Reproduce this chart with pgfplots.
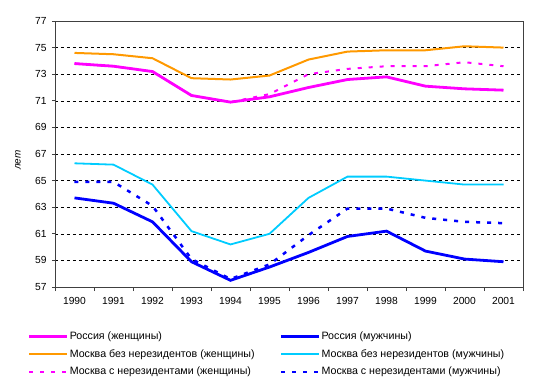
\documentclass[border=0pt]{standalone}
\usepackage{fontspec}
\setmainfont{Liberation Sans}
\usepackage{pgfplots}
\pgfplotsset{compat=1.18}
\definecolor{cmag}{RGB}{255,0,255}
\definecolor{cblue}{RGB}{0,0,255}
\definecolor{corange}{RGB}{255,153,0}
\definecolor{ccyan}{RGB}{0,204,255}
\definecolor{axgray}{RGB}{64,64,64}
\begin{document}
\begin{tikzpicture}
\begin{axis}[
 scale only axis, width=468bp, height=266bp,
 xmin=-0.5, xmax=11.5, ymin=57, ymax=77,
 ytick={57,59,...,77},
 xtick={0,...,11},
 xticklabels={1990,1991,1992,1993,1994,1995,1996,1997,1998,1999,2000,2001},
 minor xtick={-0.5,0.5,...,11.5},
 major x tick style={draw=none},
 xtick pos=bottom, ytick pos=left, tick align=outside,
 major tick length=3bp, minor tick length=4bp,
 ymajorgrids, major grid style={black, dash pattern=on 3bp off 3bp, line width=0.6bp},
 axis line style={axgray, line width=0.8bp},
 every tick/.style={axgray, line width=0.8bp},
 tick label style={font=\fontsize{10.3}{12}\selectfont},
 xticklabel style={yshift=-4bp},
 yticklabel style={xshift=-2bp},
 /pgf/number format/assume math mode=true,
 ylabel={\itshape лет},
 ylabel style={at={(axis description cs:-0.079,0.477)}, anchor=center, font=\fontsize{10}{12}\selectfont},
 legend image code/.code={\draw[#1] (0bp,0bp) -- (38bp,0bp);},
 legend columns=2,
 legend style={draw=none, fill=none, inner sep=0pt, outer sep=0pt,
   at={(axis description cs:-0.0577,-0.164)}, anchor=north west,
   font=\fontsize{10.7}{12}\selectfont,
   nodes={inner sep=1bp, text height=8bp, text depth=2.5bp},
   column sep=0pt, row sep=5bp},
 legend cell align=left,
]
\addplot[cmag, line width=2.8bp] coordinates {(0,73.8)(1,73.6)(2,73.2)(3,71.4)(4,70.9)(5,71.3)(6,72.0)(7,72.6)(8,72.8)(9,72.1)(10,71.9)(11,71.8)};
\addlegendentry{\makebox[209bp][l]{Россия (женщины)}}
\addplot[cblue, line width=2.8bp] coordinates {(0,63.7)(1,63.3)(2,61.9)(3,58.9)(4,57.5)(5,58.5)(6,59.6)(7,60.8)(8,61.2)(9,59.7)(10,59.1)(11,58.9)};
\addlegendentry{Россия (мужчины)}
\addplot[corange, line width=2bp] coordinates {(0,74.6)(1,74.5)(2,74.2)(3,72.7)(4,72.6)(5,72.9)(6,74.1)(7,74.7)(8,74.8)(9,74.8)(10,75.1)(11,75.0)};
\addlegendentry{\makebox[209bp][l]{Москва без нерезидентов (женщины)}}
\addplot[ccyan, line width=1.8bp] coordinates {(0,66.3)(1,66.2)(2,64.7)(3,61.2)(4,60.2)(5,61.0)(6,63.7)(7,65.3)(8,65.3)(9,65.0)(10,64.7)(11,64.7)};
\addlegendentry{Москва без нерезидентов (мужчины)}
\addplot[cmag, line width=2bp, dash pattern=on 4bp off 7bp] coordinates {(0,73.8)(1,73.6)(2,73.2)(3,71.4)(4,70.9)(5,71.5)(6,73.0)(7,73.4)(8,73.6)(9,73.6)(10,73.9)(11,73.6)};
\addlegendentry{\makebox[209bp][l]{Москва с нерезидентами (женщины)}}
\addplot[cblue, line width=2.5bp, dash pattern=on 4bp off 7bp] coordinates {(0,64.9)(1,64.9)(2,63.1)(3,59.1)(4,57.6)(5,58.7)(6,60.9)(7,62.9)(8,62.9)(9,62.2)(10,61.9)(11,61.8)};
\addlegendentry{Москва с нерезидентами (мужчины)}
\coordinate (bl) at (rel axis cs:0,0);
\coordinate (tr) at (rel axis cs:1,1);
\end{axis}
\pgfresetboundingbox
\path[use as bounding box] ([shift={(-55bp,-99bp)}]bl) rectangle ([shift={(22bp,21bp)}]tr);
\end{tikzpicture}
\end{document}
